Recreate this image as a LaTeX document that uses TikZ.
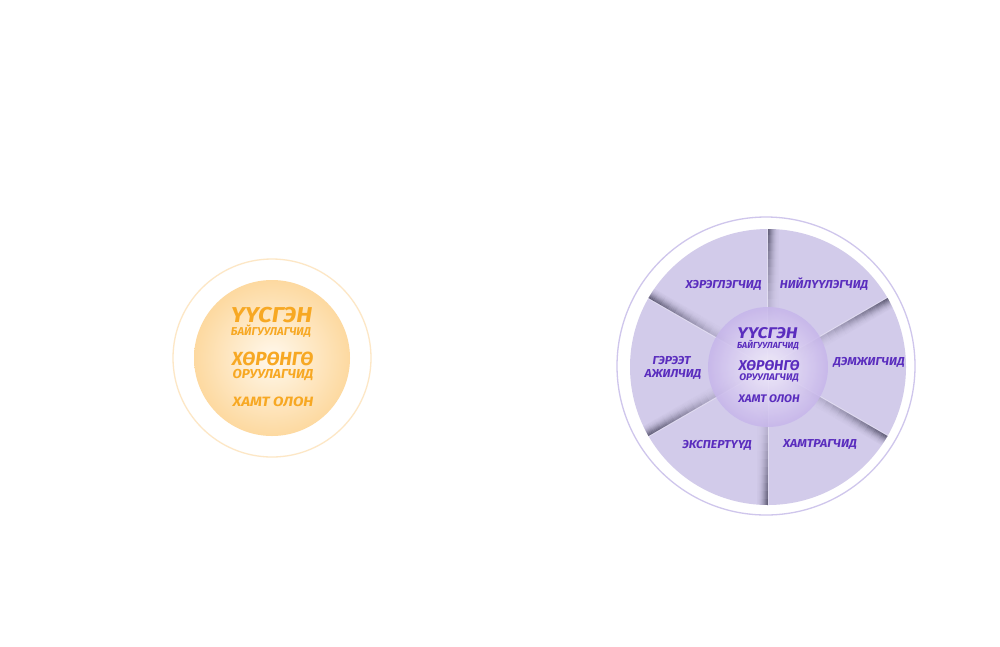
\documentclass[tikz,border=0pt]{standalone}
\usepackage{fontspec}
\usepackage{graphicx}
\setmainfont{Fira Sans}
\definecolor{orT}{HTML}{F7A823}
\definecolor{orRing}{HTML}{FDE7C6}
\definecolor{orIn}{HTML}{FFF8EC}
\definecolor{orOut}{HTML}{FDD9A0}
\definecolor{puT}{HTML}{5A2DBE}
\definecolor{puRing}{HTML}{CFC6EC}
\definecolor{puDisc}{HTML}{D2CBEA}
\definecolor{puCin}{HTML}{F4F0FB}
\definecolor{puCout}{HTML}{C6B5EA}
\definecolor{shad}{HTML}{3A3850}
\newcommand{\bfi}[1]{\fontsize{#1}{#1}\selectfont\bfseries\itshape}
\newcommand{\sxx}[2]{\scalebox{#1}[1]{#2}}
\tikzset{
  otext/.style={text=orT, inner sep=0pt, align=center, text depth=0pt},
  ptext/.style={text=puT, inner sep=0pt, align=center, text depth=0pt},
}
\begin{document}
\begin{tikzpicture}[x=1pt,y=1pt]
\useasboundingbox (0,0) rectangle (1000,-646);
\fill[white] (0,0) rectangle (1000,-646);
% ---------- left circle ----------
\coordinate (L) at (272,-358);
\draw[orRing, line width=1.3pt] (L) circle (99);
\shade[inner color=orIn, outer color=orOut] (L) circle (78);
\node[otext, font=\bfi{21.5}, text height=14.8pt] (l1) at (271.5,-315) {\sxx{1.12}{ҮҮСГЭН}};
\node[otext, font=\bfi{11.4}, text height=7.8pt] (l2) at (271,-332) {БАЙГУУЛАГЧИД};
\node[otext, font=\bfi{19}, text height=13pt] (l3) at (272.5,-358.5) {ХӨРӨНГӨ};
\node[otext, font=\bfi{13}, text height=9pt] (l4) at (273,-374) {\sxx{1.04}{ОРУУЛАГЧИД}};
\node[otext, font=\bfi{13.5}, text height=9.3pt] (l5) at (273,-401.5) {\sxx{1.13}{ХАМТ ОЛОН}};
% ---------- right circle ----------
\coordinate (R) at (768,-367);
\draw[puRing, line width=1.3pt] (766,-366) circle (149);
\fill[puDisc] (R) circle (138);
\begin{scope}
\clip (R) circle (138);
\foreach \a in {90,30,-30,-90,-150,150} {
  \begin{scope}[shift={(R)}, rotate=\a]
    \draw[white, opacity=0.35, line width=0.8pt] (0,0.6) -- (140,0.6);
    \foreach \s in {0,...,14} {
      \pgfmathsetmacro{\ra}{20+\s*8}
      \pgfmathsetmacro{\rb}{\ra+8}
      \pgfmathsetmacro{\f}{((\s+1)/15)^1.5}
      \foreach \d/\o in {0.5/0.7,1.5/0.62,2.5/0.52,3.5/0.42,4.5/0.33,5.5/0.25,6.5/0.18,7.5/0.12,8.5/0.08,9.5/0.05,10.5/0.03} {
        \pgfmathsetmacro{\op}{\o*\f}
        \draw[shad, draw opacity=\op, line width=1pt] (\ra,-\d) -- (\rb,-\d);
      }
    }
  \end{scope}
}
\end{scope}
\shade[inner color=puCin, outer color=puCout, opacity=0.85] (R) circle (60);
\node[ptext, font=\bfi{15.5}, text height=10.5pt] (c1) at (767.5,-333) {\sxx{1.15}{ҮҮСГЭН}};
\node[ptext, font=\bfi{8.8}, text height=6pt] (c2) at (768,-345) {БАЙГУУЛАГЧИД};
\node[ptext, font=\bfi{14.2}, text height=9.8pt] (c3) at (769,-365.5) {ХӨРӨНГӨ};
\node[ptext, font=\bfi{9.6}, text height=6.6pt] (c4) at (769,-377.5) {\sxx{1.04}{ОРУУЛАГЧИД}};
\node[ptext, font=\bfi{11}, text height=7.6pt] (c5) at (769,-398.5) {\sxx{1.05}{ХАМТ ОЛОН}};
\tikzset{lab/.style={ptext, font=\fontsize{11.5}{15}\selectfont\bfseries\itshape, text height=8pt}}
\node[lab] (s1) at (723.5,-284) {\sxx{1.07}{ХЭРЭГЛЭГЧИД}};
\node[lab] (s2) at (824,-284.5) {\sxx{1.05}{НИЙЛҮҮЛЭГЧИД}};
\node[lab] (s3) at (869,-361) {\sxx{1.06}{ДЭМЖИГЧИД}};
\node[lab] (s4) at (820,-443.5) {\sxx{1.08}{ХАМТРАГЧИД}};
\node[lab] (s5) at (717,-444) {\sxx{1.06}{ЭКСПЕРТҮҮД}};
\node[lab] (s6a) at (671.5,-360.5) {\sxx{1.06}{ГЭРЭЭТ}};
\node[lab] (s6b) at (673,-373) {\sxx{1.06}{АЖИЛЧИД}};
\end{tikzpicture}
\end{document}
